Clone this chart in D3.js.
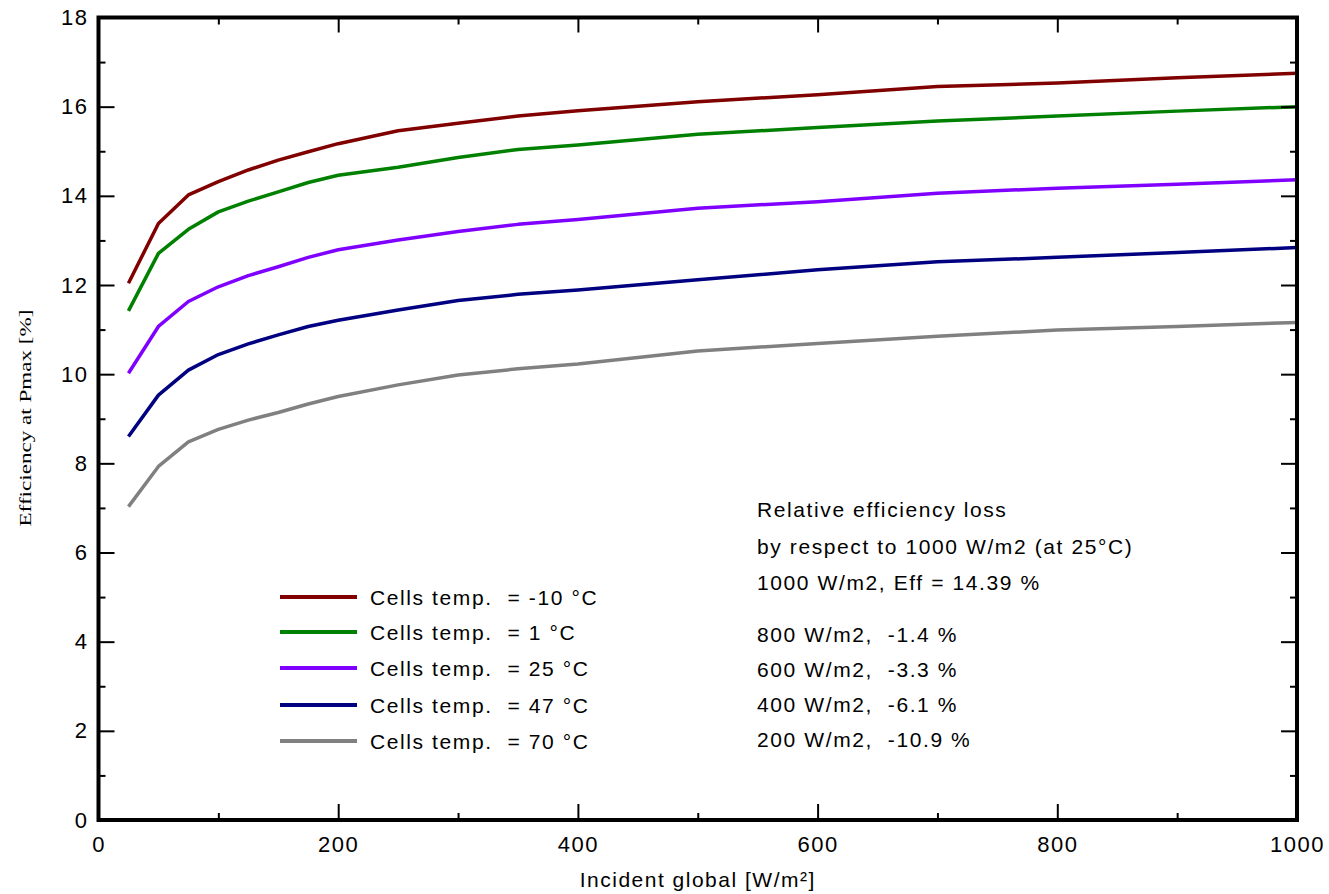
<!DOCTYPE html>
<html>
<head>
<meta charset="utf-8">
<script src="https://cdn.jsdelivr.net/npm/d3@7"></script>
<style>
  html, body { margin: 0; padding: 0; background: #fff; }
  svg { display: block; }
  text { font-family: "Liberation Sans", Arial, sans-serif; fill: #000; }
</style>
</head>
<body>
<svg id="chart" width="1329" height="894"></svg>
<script>
// ---------- data ----------
const irradiance = [25, 50, 75, 100, 125, 150, 175, 200, 250, 300, 350, 400, 500, 600, 700, 800, 900, 1000];
const effTm10 = [12.04, 13.38, 14.02, 14.32, 14.58, 14.80, 14.99, 15.17, 15.46, 15.63, 15.79, 15.91, 16.11, 16.27, 16.45, 16.53, 16.65, 16.75];
const effT1   = [11.42, 12.71, 13.25, 13.64, 13.88, 14.09, 14.30, 14.46, 14.64, 14.86, 15.04, 15.14, 15.38, 15.53, 15.68, 15.79, 15.90, 16.00];
const effT25  = [10.02, 11.07, 11.63, 11.96, 12.21, 12.41, 12.62, 12.79, 13.01, 13.20, 13.36, 13.47, 13.72, 13.87, 14.06, 14.17, 14.26, 14.36];
const effT47  = [8.60, 9.53, 10.09, 10.44, 10.68, 10.88, 11.07, 11.21, 11.44, 11.65, 11.79, 11.89, 12.12, 12.34, 12.52, 12.62, 12.73, 12.84];
const effT70  = [7.03, 7.93, 8.48, 8.76, 8.97, 9.14, 9.33, 9.50, 9.76, 9.98, 10.12, 10.23, 10.52, 10.69, 10.85, 10.99, 11.07, 11.16];

const seriesLabels = ["Cells temp.  = -10 °C", "Cells temp.  = 1 °C", "Cells temp.  = 25 °C", "Cells temp.  = 47 °C", "Cells temp.  = 70 °C"];
const seriesValues = [effTm10, effT1, effT25, effT47, effT70];

const xMajorTicks = [0, 200, 400, 600, 800, 1000];
const xMinorTicks = [100, 300, 500, 700, 900];
const yMajorTicks = [0, 2, 4, 6, 8, 10, 12, 14, 16, 18];
const yMinorTicks = [1, 3, 5, 7, 9, 11, 13, 15, 17];

const xTitle = "Incident global [W/m²]";
const yTitle = "Efficiency at Pmax [%]";
const noteLines = [
  "Relative efficiency loss",
  "by respect to 1000 W/m2 (at 25°C)",
  "1000 W/m2, Eff = 14.39 %",
  "800 W/m2,  -1.4 %",
  "600 W/m2,  -3.3 %",
  "400 W/m2,  -6.1 %",
  "200 W/m2,  -10.9 %"
];

// ---------- styles ----------
const colors = ["#800000", "#008000", "#8000ff", "#000080", "#808080"];
const pLeft = 98.5, pRight = 1297, pTop = 17.5, pBottom = 820;

const svg = d3.select("#chart");
const x = d3.scaleLinear().domain([0, 1000]).range([pLeft, pRight]);
const y = d3.scaleLinear().domain([0, 18]).range([pBottom, pTop]);

// curves
const line = d3.line().x(d => x(d[0])).y(d => y(d[1])).curve(d3.curveLinear);
seriesValues.forEach((vals, i) => {
  svg.append("path")
    .datum(irradiance.map((v, k) => [v, vals[k]]))
    .attr("d", line)
    .attr("fill", "none")
    .attr("stroke", colors[i])
    .attr("stroke-width", 3.5)
    .attr("stroke-linejoin", "round");
});

// axes helpers
function styleAxis(g) {
  g.select(".domain").remove();
  g.selectAll(".tick line").attr("stroke", "#000").attr("stroke-width", 2);
  g.selectAll(".tick text")
    .style("font-family", "'Liberation Sans', Arial, sans-serif")
    .style("font-size", "22px")
    .style("letter-spacing", "1.5px")
    .attr("fill", "#000");
}

// bottom
svg.append("g").attr("transform", `translate(0,${pBottom})`)
  .call(d3.axisBottom(x).tickValues(xMajorTicks).tickSize(-16).tickSizeOuter(0).tickPadding(16).tickFormat(d3.format("d")))
  .call(styleAxis);
svg.append("g").attr("transform", `translate(0,${pBottom})`)
  .call(d3.axisBottom(x).tickValues(xMinorTicks).tickSize(-7).tickSizeOuter(0).tickFormat(""))
  .call(styleAxis);
// top
svg.append("g").attr("transform", `translate(0,${pTop})`)
  .call(d3.axisTop(x).tickValues(xMajorTicks).tickSize(-15).tickSizeOuter(0).tickFormat(""))
  .call(styleAxis);
svg.append("g").attr("transform", `translate(0,${pTop})`)
  .call(d3.axisTop(x).tickValues(xMinorTicks).tickSize(-7).tickSizeOuter(0).tickFormat(""))
  .call(styleAxis);
// left
svg.append("g").attr("transform", `translate(${pLeft},0)`)
  .call(d3.axisLeft(y).tickValues(yMajorTicks).tickSize(-16).tickSizeOuter(0).tickPadding(10).tickFormat(d3.format("d")))
  .call(styleAxis);
svg.append("g").attr("transform", `translate(${pLeft},0)`)
  .call(d3.axisLeft(y).tickValues(yMinorTicks).tickSize(-7).tickSizeOuter(0).tickFormat(""))
  .call(styleAxis);
// right
svg.append("g").attr("transform", `translate(${pRight},0)`)
  .call(d3.axisRight(y).tickValues(yMajorTicks).tickSize(-16).tickSizeOuter(0).tickFormat(""))
  .call(styleAxis);
svg.append("g").attr("transform", `translate(${pRight},0)`)
  .call(d3.axisRight(y).tickValues(yMinorTicks).tickSize(-7).tickSizeOuter(0).tickFormat(""))
  .call(styleAxis);

// frame
svg.append("rect")
  .attr("x", pLeft).attr("y", pTop)
  .attr("width", pRight - pLeft).attr("height", pBottom - pTop)
  .attr("fill", "none").attr("stroke", "#000").attr("stroke-width", 4);

// axis titles
svg.append("text")
  .attr("x", (pLeft + pRight) / 2).attr("y", 887)
  .attr("text-anchor", "middle")
  .style("font-size", "21px").style("letter-spacing", "1.5px")
  .text(xTitle);

svg.append("text")
  .attr("transform", "translate(31,418) rotate(-90)")
  .attr("text-anchor", "middle")
  .style("font-family", "'Liberation Serif', 'Times New Roman', serif")
  .style("font-size", "17px")
  .attr("textLength", 217).attr("lengthAdjust", "spacingAndGlyphs")
  .text(yTitle);

// legend
const legY = [597, 632, 668, 705, 741];
const legend = svg.append("g");
seriesLabels.forEach((lab, i) => {
  legend.append("line")
    .attr("x1", 280).attr("x2", 357)
    .attr("y1", legY[i]).attr("y2", legY[i])
    .attr("stroke", colors[i]).attr("stroke-width", 4);
  legend.append("text")
    .attr("x", 370).attr("y", legY[i] + 8)
    .style("font-size", "21px").style("letter-spacing", "1.6px")
    .style("white-space", "pre")
    .text(lab);
});

// note
const noteY = [517, 554, 590, 642, 677, 712, 747];
noteLines.forEach((t, i) => {
  svg.append("text")
    .attr("x", 757).attr("y", noteY[i])
    .style("font-size", "21px").style("letter-spacing", "1.6px")
    .style("white-space", "pre")
    .text(t);
});
</script>
</body>
</html>
